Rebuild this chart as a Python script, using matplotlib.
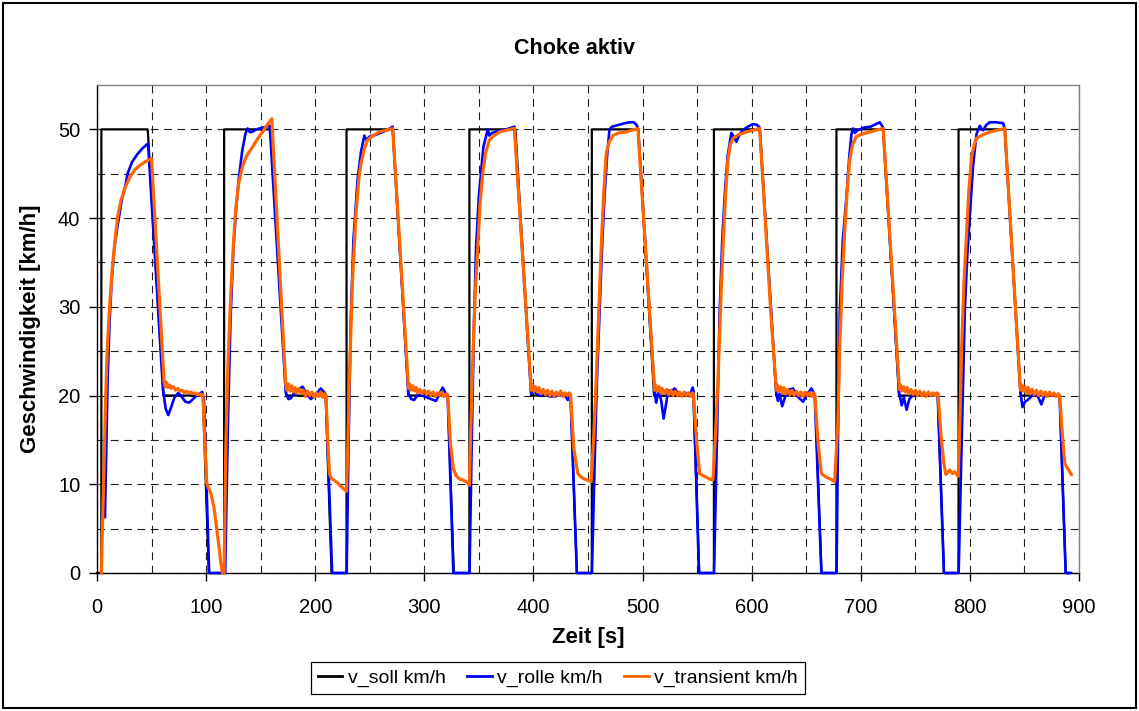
import matplotlib
matplotlib.use("Agg")
import matplotlib.pyplot as plt
from matplotlib.patches import Rectangle

plt.rcParams['font.family'] = ['Liberation Sans', 'DejaVu Sans']

# ---------------- data ----------------
title = "Choke aktiv"
xlabel = "Zeit [s]"
ylabel = "Geschwindigkeit [km/h]"
series_names = ["v_soll km/h", "v_rolle km/h", "v_transient km/h"]
x_ticks = [0, 100, 200, 300, 400, 500, 600, 700, 800, 900]
y_ticks = [0, 10, 20, 30, 40, 50]
x_grid_minor = [50, 150, 250, 350, 450, 550, 650, 750, 850]
y_grid_minor = [5, 15, 25, 35, 45]

# set speed (v_soll)
soll_t = [0, 4, 4, 46.5, 61, 97, 102.5,
          116.5, 116.5, 159, 173.5, 209.5, 215,
          228.7, 228.7, 271, 285.5, 321.5, 327,
          341.3, 341.3, 383.5, 398, 434, 439.8,
          453.5, 453.5, 496, 510.5, 546.5, 552,
          565.4, 565.4, 607.5, 622.5, 658, 664,
          677.7, 677.7, 720.5, 735, 770.5, 776.3,
          789.6, 789.6, 832, 846.5, 882.3, 887.8, 893]
soll_v = [0, 0, 50, 50, 20, 20, 0,
          0, 50, 50, 20, 20, 0,
          0, 50, 50, 20, 20, 0,
          0, 50, 50, 20, 20, 0,
          0, 50, 50, 20, 20, 0,
          0, 50, 50, 20, 20, 0,
          0, 50, 50, 20, 20, 0,
          0, 50, 50, 20, 20, 0, 0]

# roller speed (v_rolle)
rolle_t = [
    7.3, 8.5, 9.8, 11.6, 13.5, 16, 20, 23, 26, 28, 32, 37, 42, 46.8, 60.5, 63, 65.3, 68, 71, 74.5, 78, 81, 84.5, 88, 92, 96.5, 98, 102.8,
    116.6, 117.5, 120, 122.5, 125, 127.5, 130, 133, 136, 138, 140, 142, 146, 152, 158.3, 173, 175.5, 177.7, 182, 188.4, 192, 196, 200, 205, 208, 209.8, 215.5,
    228.8, 230.5, 232.7, 235, 238.8, 242, 245, 247, 250, 255.7, 262, 267, 271, 285.3, 288, 290.8, 294, 298, 302, 306, 310.7, 314, 316.8, 319, 321.4, 326.6,
    341.4, 343.5, 345.5, 347.4, 350, 354.1, 358.1, 359.5, 362, 368, 375, 382.6, 397.9, 399.4, 402, 406, 410, 415, 420, 425, 428, 431.5, 434, 439.8,
    453.6, 456, 458, 460.6, 463, 465.1, 467.5, 469.7, 472, 478, 484, 488, 492, 494.5, 496, 511, 512.5, 514.5, 517, 519.3, 521.5, 523.5, 526, 529.4, 533, 537, 540, 543, 546, 546.8, 551.7,
    565.5, 568, 570.6, 573, 575.2, 578, 581.4, 583, 586, 588, 590.6, 595, 601.2, 605, 607.3, 622.6, 624, 625.5, 628, 630.5, 633, 637.9, 642, 647.1, 651, 654.7, 657.8, 663.9,
    677.8, 679, 680.7, 683.5, 686.9, 689.5, 691.5, 693, 694.5, 697, 703, 709, 714, 717.4, 720.5, 735.2, 737.5, 739.5, 742, 744.5, 748, 755, 762, 769.5, 770.5, 776.2,
    789.7, 792.5, 795.4, 797.5, 800, 803, 806.1, 809.1, 810.5, 812.2, 815, 818.3, 824, 830.5, 832, 846.3, 848.2, 850.5, 853, 858, 862, 865.5, 868.5, 872, 880.8, 882.3, 887.8, 891.5]
rolle_v = [
    6.3, 14, 22, 28.5, 33, 36.8, 40, 42.2, 43.6, 45, 46.3, 47.2, 47.9, 48.4, 20.6, 18.5, 17.8, 18.7, 19.8, 20.3, 19.8, 19.3, 19.2, 19.6, 20.1, 20.4, 19.5, 0,
    0, 0, 17, 29, 36.5, 41, 44.5, 47.5, 49.5, 50.1, 49.7, 49.7, 50.0, 50.2, 50.4, 20.3, 19.6, 19.7, 20.5, 21.0, 20.2, 19.6, 20.0, 20.8, 20.4, 20.1, 0,
    0, 14, 29, 37.5, 44.3, 47.5, 49.3, 48.8, 49.2, 49.4, 49.7, 50.0, 50.3, 20.2, 19.6, 19.5, 20.1, 20.0, 19.8, 19.6, 19.4, 20.2, 20.9, 20.4, 20.0, 0,
    0, 15, 28, 36.7, 42.5, 48, 50.0, 49.3, 49.6, 49.8, 50.0, 50.3, 20.2, 21.2, 20.3, 20.0, 20.1, 19.9, 19.9, 20.2, 20.2, 19.5, 20.0, 0,
    0, 12, 21, 29.2, 37, 42.4, 47, 50.0, 50.3, 50.5, 50.7, 50.8, 50.8, 50.5, 50.0, 20.4, 19.2, 20.5, 19.5, 17.4, 19.0, 20.6, 20.4, 20.8, 20.2, 20.0, 20.3, 20.0, 20.9, 20.4, 0,
    0, 14, 29.2, 37.5, 42.4, 47, 49.6, 49.3, 48.6, 49.2, 49.7, 50.2, 50.6, 50.5, 50.2, 20.2, 19.4, 20.2, 18.8, 19.8, 20.6, 20.8, 19.9, 19.3, 20.2, 20.8, 20.1, 0,
    0, 14, 29.2, 37.5, 42.4, 47, 49.5, 50.1, 49.6, 49.9, 50.2, 50.3, 50.6, 50.8, 50.2, 20.3, 18.9, 19.8, 18.4, 19.6, 20.1, 20.2, 20.1, 20.2, 20.2, 0,
    0, 15, 29.7, 35.5, 40.4, 46, 49.5, 50.4, 50.1, 49.9, 50.5, 50.8, 50.8, 50.7, 50.0, 20.4, 18.7, 19.3, 19.5, 20.1, 20.0, 19.0, 20.1, 20.0, 20.0, 19.8, 0, 0]

# transient model speed (v_transient)
trans_t = [
    4, 5, 6.5, 8, 9.5, 11.5, 14, 16.5, 19, 22, 26, 30, 35, 40, 45, 50,
    53, 56, 59, 61.5, 62.5, 63.5, 65, 66.5, 68, 70, 72, 74, 76, 78, 80, 82, 84, 86, 88, 90, 92, 94, 96, 97,
    98.5, 100, 100.6, 101.5, 103, 104.5, 105.8, 107, 108.5, 110.4, 112, 113.5, 115, 116.5,
    118, 120, 122.6, 125, 127.2, 130, 133.3, 137, 142.5, 147, 151.7, 156, 160.2,
    163, 166, 169.5, 173, 174, 175.5, 177, 178.5, 180, 181.5, 183, 185, 187, 189, 191, 193, 195, 197, 199, 201, 203, 205, 207, 208.5, 209.8,
    211.5, 213, 215, 217, 219, 221, 223, 225, 227, 228.7,
    230, 231.2, 234.2, 237.3, 240, 241.9, 245, 248, 253, 258.7, 265, 271,
    274, 277.5, 281, 285.5, 286.5, 288, 289.5, 291, 292.5, 294, 296, 298, 300, 302, 304, 306, 308, 310, 312, 314, 316, 318, 320, 321.4,
    324, 326.6, 329, 332.1, 335, 338.2, 341.3,
    342.5, 344.3, 346.5, 348.9, 351, 353.5, 356, 359.6, 364, 368.8, 375, 382.6,
    386, 389.5, 393, 398, 399, 400.5, 402, 403.5, 405, 407, 409, 411, 413, 415, 417, 419, 421, 423, 425, 427, 429, 431, 433, 434,
    437, 440.7, 443, 445, 447, 449, 451, 452.9,
    455.5, 457.5, 460, 462.1, 464.5, 466.7, 469.5, 472.8, 478, 485, 490, 495.7,
    499, 502.5, 506, 511, 512, 513.5, 515, 516.5, 518, 520, 522, 524, 526, 528, 530, 532, 534, 536, 538, 540, 542, 544, 545.5, 546.5,
    549.5, 552.3, 555, 558.4, 561, 564.5,
    567, 569.1, 571.5, 573.7, 576, 578.3, 580.5, 582.9, 588, 595.1, 601, 607.3,
    610.5, 614, 617.5, 622.6, 623.5, 625, 626.5, 628, 629.5, 631, 633, 635, 637, 639, 641, 643, 645, 647, 649, 651, 653, 655, 656.5, 657.8,
    661, 663.9, 666, 668.5, 672, 676.1,
    679, 680.7, 683, 685.3, 687.5, 689.9, 692.5, 696, 702, 708.3, 714, 720.5,
    723.5, 727, 730.5, 735.4, 736.5, 738, 739.5, 741, 742.5, 744, 746, 748, 750, 752, 754, 756, 758, 760, 762, 764, 766, 768, 769.5, 770.8,
    773.5, 776, 778, 780, 781.7, 784, 786, 789.3,
    791, 792.4, 794.5, 797, 799, 801.5, 804, 806.1, 812, 818.3, 825, 832,
    835, 838.5, 842, 846.3, 847.5, 849, 850.5, 852, 853.5, 855, 857, 859, 861, 863, 865, 867, 869, 871, 873, 875, 877, 879, 881, 882.3,
    884.5, 886.9, 888.5, 890, 891.5, 893]
trans_v = [
    0, 5, 13, 20, 25.5, 30, 34.3, 37.5, 40.2, 42.0, 43.5, 44.6, 45.5, 46.0, 46.4, 46.7,
    40.1, 33.6, 27, 21.5, 21.0, 21.5, 20.9, 21.2, 20.8, 21.0, 20.6, 20.8, 20.5, 20.6, 20.3, 20.5, 20.3, 20.4, 20.2, 20.3, 20.1, 20.2, 20.0, 20.1,
    16, 11.5, 10.1, 9.8, 9.4, 8.9, 8.2, 7.5, 6.2, 4.4, 2.8, 1.1, 0, 0,
    14, 23.5, 31.5, 37, 41.2, 44, 45.8, 47, 48, 48.9, 49.7, 50.5, 51.2,
    44.6, 37.6, 29.4, 21.2, 20.6, 21.3, 20.5, 21.1, 20.4, 20.9, 20.3, 20.8, 20.2, 20.6, 19.9, 20.5, 20.0, 20.4, 19.8, 20.3, 19.9, 20.4, 19.8, 20.2, 20.0,
    15, 11.2, 10.6, 10.5, 10.3, 10.1, 9.8, 9.6, 9.4, 9.2,
    15, 21.7, 33, 40.5, 44.5, 46.1, 47.8, 48.8, 49.3, 49.7, 49.9, 50.1,
    44.0, 37.0, 29.9, 20.8, 21.3, 20.6, 21.1, 20.5, 20.9, 20.3, 20.7, 20.2, 20.6, 20.1, 20.5, 20.0, 20.4, 19.9, 20.3, 20.0, 20.4, 19.9, 20.2, 20.1,
    14.5, 11.8, 11.0, 10.6, 10.5, 10.3, 9.9,
    16, 23.6, 31, 36.7, 41.5, 45, 47.3, 48.8, 49.3, 49.7, 49.9, 50.1,
    43.6, 36.9, 30.2, 20.6, 21.2, 20.5, 21.0, 20.4, 20.9, 20.2, 20.7, 20.1, 20.6, 20.0, 20.5, 19.9, 20.4, 20.0, 20.5, 19.9, 20.3, 20.0, 20.3, 20.1,
    14, 11.2, 10.9, 10.7, 10.6, 10.5, 10.4, 10.3,
    16, 21.7, 30, 36.7, 43, 47.3, 48.6, 49.3, 49.6, 49.7, 49.9, 50.1,
    43.7, 37.0, 30.2, 20.6, 21.2, 20.5, 21.0, 20.3, 20.8, 20.2, 20.7, 20.1, 20.6, 20.0, 20.5, 20.0, 20.4, 19.9, 20.4, 20.0, 20.3, 19.9, 20.3, 20.2,
    15, 11.2, 11.0, 10.8, 10.6, 10.5,
    16, 21.7, 30, 36.7, 42.5, 46.6, 48.3, 49, 49.4, 49.7, 49.9, 50.1,
    43.8, 36.6, 29.4, 20.6, 21.2, 20.5, 21.0, 20.3, 20.9, 20.2, 20.7, 20.1, 20.6, 20.0, 20.5, 20.0, 20.4, 19.9, 20.4, 20.0, 20.3, 19.9, 20.3, 20.1,
    14.5, 11.2, 11.0, 10.8, 10.6, 10.3,
    17, 25.5, 33, 38.6, 43, 46.6, 48.3, 49.2, 49.5, 49.7, 49.9, 50.1,
    44.2, 37.3, 30.4, 20.7, 21.2, 20.5, 21.0, 20.4, 20.9, 20.2, 20.7, 20.1, 20.6, 20.0, 20.5, 20.0, 20.4, 19.9, 20.4, 20.0, 20.3, 20.0, 20.3, 20.2,
    15.5, 12.5, 11.1, 11.4, 11.6, 11.2, 11.4, 10.9,
    18, 25.3, 32.5, 38.3, 43, 46.9, 48.3, 49, 49.4, 49.7, 49.9, 50.1,
    43.9, 36.7, 29.5, 20.6, 21.2, 20.5, 21.0, 20.3, 20.9, 20.2, 20.7, 20.1, 20.6, 20.0, 20.5, 20.0, 20.4, 19.9, 20.4, 20.0, 20.3, 19.9, 20.2, 20.0,
    16, 12.4, 12.0, 11.7, 11.4, 11.1]

colors = ["#000000", "#0000FF", "#FF6600"]

# ---------------- figure ----------------
W, H = 1139, 711
fig = plt.figure(figsize=(W / 100, H / 100), dpi=100)
fig.patch.set_facecolor("white")
ax = fig.add_axes([97 / W, 1 - 573 / H, (1079 - 97) / W, (573 - 85) / H])

ax.plot(soll_t, soll_v, color=colors[0], lw=1.6, label=series_names[0], clip_on=False, zorder=3)
ax.plot(rolle_t, rolle_v, color=colors[1], lw=1.9, label=series_names[1], clip_on=False, zorder=4,
        solid_joinstyle="round")
ax.plot(trans_t, trans_v, color=colors[2], lw=2.3, label=series_names[2], clip_on=False, zorder=5,
        solid_joinstyle="round")

ax.set_xlim(0, 900)
ax.set_ylim(0, 55)
ax.set_xticks(x_ticks)
ax.set_yticks(y_ticks)
ax.set_xticks(x_grid_minor, minor=True)
ax.set_yticks(y_grid_minor, minor=True)
ax.set_axisbelow(True)
ax.grid(True, which="both", color="#202020", lw=0.8, linestyle=(0, (7, 5)))

ax.tick_params(axis="both", which="major", direction="out", length=6, width=1,
               color="black", labelsize=14.5)
ax.tick_params(axis="x", which="major", pad=12)
ax.tick_params(axis="y", which="major", pad=6)
ax.tick_params(axis="both", which="minor", length=0)

for s in ["left", "bottom"]:
    ax.spines[s].set_color("black")
    ax.spines[s].set_linewidth(1)
for s in ["top", "right"]:
    ax.spines[s].set_color("#808080")
    ax.spines[s].set_linewidth(1)

ax.set_xlabel(xlabel, fontsize=16, fontweight="bold")
ax.xaxis.set_label_coords(0.5, (573 - 637) / 488)
ax.set_ylabel(ylabel, fontsize=16, fontweight="bold")
ax.yaxis.set_label_coords((31 - 97) / 982, 0.5)
ax.xaxis.label.set_va("center")
ax.yaxis.label.set_va("center")

fig.text(574 / W, 1 - 48 / H, title, fontsize=15.5, fontweight="bold",
         ha="center", va="center")

leg = fig.legend(loc="center", bbox_to_anchor=(558 / W, 1 - 678 / H), ncol=3,
                 fontsize=14, frameon=True, fancybox=False, shadow=False,
                 edgecolor="black", framealpha=1, handlelength=1.25,
                 handletextpad=0.3, columnspacing=1.1, borderpad=0.35,
                 borderaxespad=0)
leg.get_frame().set_linewidth(0.9)
for line in leg.get_lines():
    line.set_linewidth(2)

fig.patches.append(Rectangle((3 / W, 3 / H), (W - 6) / W, (H - 6) / H,
                             transform=fig.transFigure, fill=False,
                             edgecolor="black", lw=1.5))

fig.savefig("out.png", dpi=100, facecolor="white")
